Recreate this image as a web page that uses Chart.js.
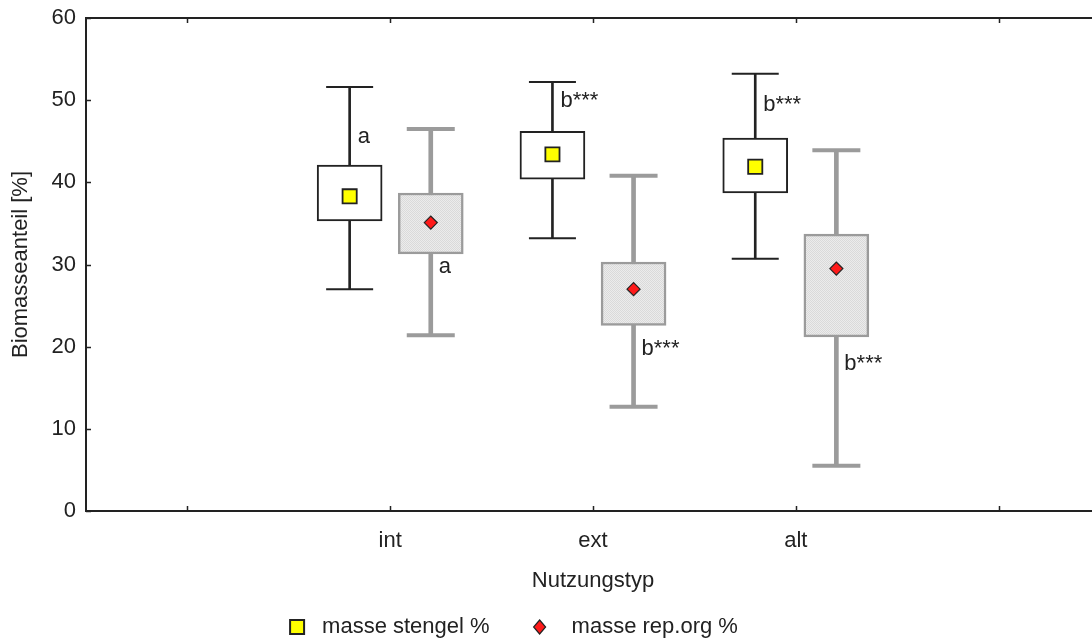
<!DOCTYPE html>
<html lang="de">
<head>
<meta charset="UTF-8">
<title>Biomasseanteil nach Nutzungstyp</title>
<script src="https://cdn.jsdelivr.net/npm/chart.js@4.4.0/dist/chart.umd.min.js"></script>
<style>
    html, body { margin: 0; padding: 0; background: #fff; overflow: hidden; }
    #wrap { width: 1104px; height: 639px; }
</style>
</head>
<body>
<div id="wrap"><canvas id="myChart"></canvas></div>
<script>
    // x axis: ticks at 0..4, the three groups sit on 1..3
    const categories = ['int', 'ext', 'alt'];
    const tickLabels = ['', 'int', 'ext', 'alt', ''];
    const groupOffset = 0.2; // stengel left of the tick, rep.org right of it

    // masse stengel %
    const stengelMean  = [38.3, 43.4, 41.9];
    const stengelBoxLo = [35.3, 40.4, 38.7];
    const stengelBoxHi = [42.1, 46.2, 45.4];
    const stengelMin   = [27.0, 33.2, 30.7];
    const stengelMax   = [51.6, 52.2, 53.2];
    const stengelLetters = ['a', 'b***', 'b***'];
    const stengelLetterY = [44.8, 49.2, 48.7];

    // masse rep.org %
    const repMean  = [35.1, 27.0, 29.5];
    const repBoxLo = [31.3, 22.6, 21.2];
    const repBoxHi = [38.7, 30.3, 33.7];
    const repMin   = [21.4, 12.7, 5.5];
    const repMax   = [46.5, 40.8, 43.9];
    const repLetters = ['a', 'b***', 'b***'];
    const repLetterY = [29.0, 19.0, 17.2];

    const FONT = '"Liberation Sans", Arial, Helvetica, sans-serif';
    const INK = '#222';
    const GREY = '#9b9b9b';

    const xStengel = categories.map((_, i) => i + 1 - groupOffset);
    const xRep = categories.map((_, i) => i + 1 + groupOffset);

    const ctx = document.getElementById('myChart').getContext('2d');

    // fine dotted grey fill like the original boxes
    const tile = document.createElement('canvas');
    tile.width = 2; tile.height = 2;
    const tctx = tile.getContext('2d');
    tctx.fillStyle = '#ececec'; tctx.fillRect(0, 0, 2, 2);
    tctx.fillStyle = '#dadada'; tctx.fillRect(0, 0, 1, 1); tctx.fillRect(1, 1, 1, 1);
    const greyFill = ctx.createPattern(tile, 'repeat');

    // frame round the plot + short ticks pointing inward
    const framePlugin = {
        id: 'frame',
        afterDatasetsDraw(chart) {
            const { ctx, chartArea: a, scales: { x, y } } = chart;
            ctx.save();
            ctx.strokeStyle = INK;
            ctx.lineWidth = 2;
            ctx.strokeRect(a.left, a.top, a.right - a.left, a.bottom - a.top);
            ctx.beginPath();
            x.ticks.forEach(t => {
                const px = Math.round(x.getPixelForValue(t.value)) + 0.5;
                ctx.moveTo(px, a.bottom); ctx.lineTo(px, a.bottom - 5);
                ctx.moveTo(px, a.top); ctx.lineTo(px, a.top + 5);
            });
            y.ticks.forEach(t => {
                const py = Math.round(y.getPixelForValue(t.value)) + 0.5;
                ctx.moveTo(a.left, py); ctx.lineTo(a.left + 5, py);
            });
            ctx.lineWidth = 1.5;
            ctx.stroke();

            // significance letters
            ctx.fillStyle = INK;
            ctx.font = '22px ' + FONT;
            ctx.textAlign = 'left';
            ctx.textBaseline = 'alphabetic';
            categories.forEach((_, i) => {
                ctx.fillText(stengelLetters[i], x.getPixelForValue(xStengel[i]) + 8, y.getPixelForValue(stengelLetterY[i]));
                ctx.fillText(repLetters[i], x.getPixelForValue(xRep[i]) + 8, y.getPixelForValue(repLetterY[i]));
            });
            ctx.restore();
        }
    };

    // legend under the axis title
    const legendPlugin = {
        id: 'boxLegend',
        afterDraw(chart) {
            const ctx = chart.ctx;
            const ds = chart.data.datasets;
            ctx.save();
            ctx.font = '22px ' + FONT;
            ctx.textBaseline = 'middle';
            ctx.textAlign = 'left';
            const w1 = ctx.measureText(ds[0].label).width;
            const w2 = ctx.measureText(ds[1].label).width;
            const total = 32 + w1 + 50 + 32 + w2;
            const cy = 627;
            let x0 = 514 - total / 2;
            // square
            ctx.fillStyle = ds[0].pointBackgroundColor;
            ctx.strokeStyle = INK;
            ctx.lineWidth = 2;
            ctx.fillRect(x0, cy - 7, 14, 14);
            ctx.strokeRect(x0, cy - 7, 14, 14);
            ctx.fillStyle = INK;
            ctx.fillText(ds[0].label, x0 + 32, cy);
            // diamond
            const dx = x0 + 32 + w1 + 50;
            ctx.beginPath();
            ctx.moveTo(dx, cy - 7); ctx.lineTo(dx + 6, cy); ctx.lineTo(dx, cy + 7); ctx.lineTo(dx - 6, cy);
            ctx.closePath();
            ctx.fillStyle = ds[1].pointBackgroundColor;
            ctx.fill();
            ctx.lineWidth = 1.2;
            ctx.stroke();
            ctx.fillStyle = INK;
            ctx.fillText(ds[1].label, dx + 32, cy);
            ctx.restore();
        }
    };

    const myChart = new Chart(ctx, {
        type: 'bar',
        data: {
            datasets: [
                {
                    type: 'line', label: 'masse stengel %', showLine: false, order: 0,
                    data: stengelMean.map((v, i) => ({ x: xStengel[i], y: v })),
                    pointStyle: 'rect', pointRadius: 10,
                    pointBackgroundColor: '#ffff00', pointBorderColor: INK, pointBorderWidth: 1.8
                },
                {
                    type: 'line', label: 'masse rep.org %', showLine: false, order: 0,
                    data: repMean.map((v, i) => ({ x: xRep[i], y: v })),
                    pointStyle: 'rectRot', pointRadius: 6.5,
                    pointBackgroundColor: '#ff1a1a', pointBorderColor: INK, pointBorderWidth: 1.2
                },
                {
                    label: 'box stengel', order: 1, grouped: false, barThickness: 65,
                    data: stengelBoxLo.map((v, i) => ({ x: xStengel[i], y: [v, stengelBoxHi[i]] })),
                    backgroundColor: '#ffffff', borderColor: INK, borderWidth: 2, borderSkipped: false
                },
                {
                    label: 'box rep', order: 1, grouped: false, barThickness: 65,
                    data: repBoxLo.map((v, i) => ({ x: xRep[i], y: [v, repBoxHi[i]] })),
                    backgroundColor: greyFill, borderColor: GREY, borderWidth: 2.5, borderSkipped: false
                },
                {
                    type: 'line', label: 'caps stengel', showLine: false, order: 2,
                    data: stengelMin.flatMap((v, i) => [{ x: xStengel[i], y: v }, { x: xStengel[i], y: stengelMax[i] }]),
                    pointStyle: 'line', pointRadius: 23.5, pointBorderColor: INK, pointBorderWidth: 2
                },
                {
                    type: 'line', label: 'caps rep', showLine: false, order: 2,
                    data: repMin.flatMap((v, i) => [{ x: xRep[i], y: v }, { x: xRep[i], y: repMax[i] }]),
                    pointStyle: 'line', pointRadius: 24, pointBorderColor: GREY, pointBorderWidth: 4
                },
                {
                    label: 'whisker stengel', order: 3, grouped: false, barThickness: 2,
                    data: stengelMin.map((v, i) => ({ x: xStengel[i], y: [v, stengelMax[i]] })),
                    backgroundColor: INK, borderWidth: 0
                },
                {
                    label: 'whisker rep', order: 3, grouped: false, barThickness: 4,
                    data: repMin.map((v, i) => ({ x: xRep[i], y: [v, repMax[i]] })),
                    backgroundColor: GREY, borderWidth: 0
                }
            ]
        },
        options: {
            responsive: true,
            maintainAspectRatio: false,
            animation: false,
            layout: { autoPadding: false, padding: { top: 18, right: 4, bottom: 33, left: 0 } },
            scales: {
                x: {
                    type: 'linear',
                    min: -0.5,
                    max: 4.5,
                    offset: false,
                    afterBuildTicks: (scale) => { scale.ticks = tickLabels.map((_, i) => ({ value: i })); },
                    afterFit: (scale) => { scale.height = 95; scale.paddingLeft = 0; scale.paddingRight = 0; },
                    grid: { display: false, drawTicks: false },
                    border: { display: false },
                    ticks: {
                        padding: 17,
                        color: INK,
                        font: { family: FONT, size: 22 },
                        callback: (v) => tickLabels[v] || ''
                    },
                    title: {
                        display: true,
                        text: 'Nutzungstyp',
                        color: INK,
                        font: { family: FONT, size: 22 },
                        padding: { top: 0, bottom: 12 }
                    }
                },
                y: {
                    min: 0,
                    max: 60,
                    stacked: false,
                    afterFit: (scale) => { scale.width = 86; scale.paddingTop = 0; scale.paddingBottom = 0; },
                    grid: { display: false, drawTicks: false },
                    border: { display: false },
                    ticks: {
                        stepSize: 10,
                        padding: 10,
                        color: INK,
                        font: { family: FONT, size: 22 }
                    },
                    title: {
                        display: true,
                        text: 'Biomasseanteil [%]',
                        color: INK,
                        font: { family: FONT, size: 22 },
                        padding: { top: 8, bottom: 0 }
                    }
                }
            },
            plugins: {
                legend: { display: false },
                tooltip: { enabled: false }
            }
        },
        plugins: [framePlugin, legendPlugin]
    });
</script>
</body>
</html>
